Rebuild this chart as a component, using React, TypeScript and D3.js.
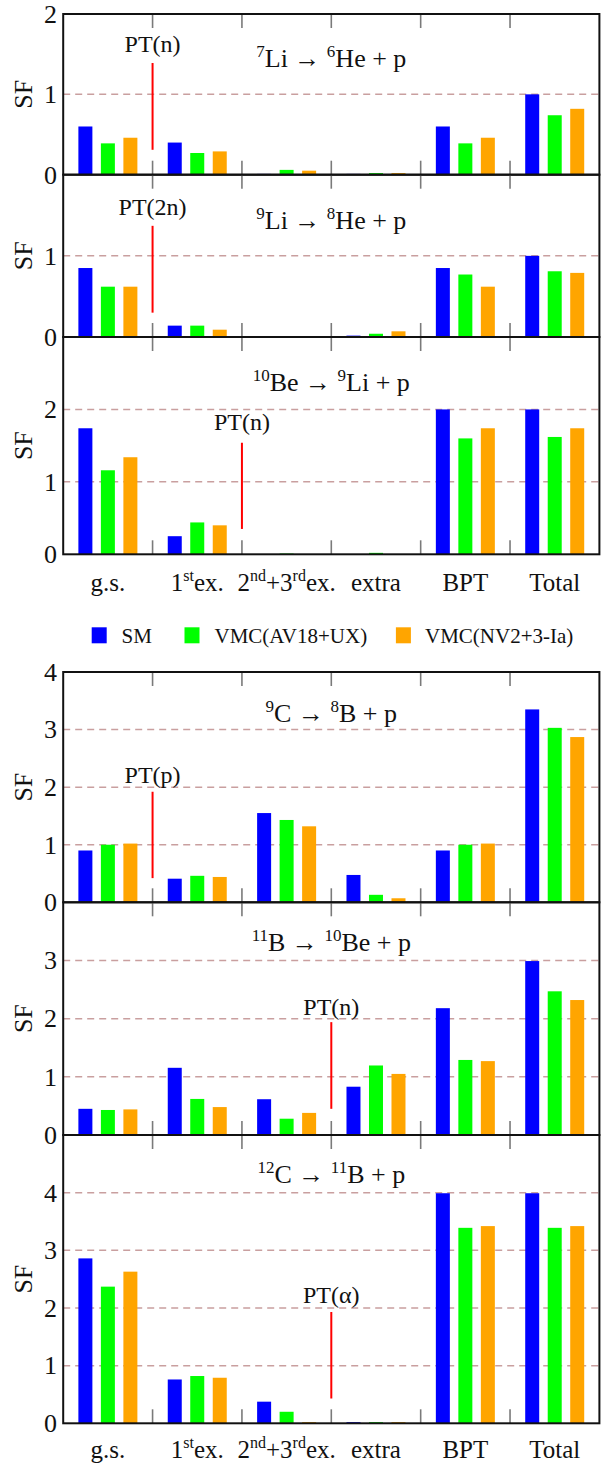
import React from "react";
import * as d3 from "d3";

// ---------- data ----------
const categories = ["g.s.", "1st ex.", "2nd+3rd ex.", "extra", "BPT", "Total"];
const seriesNames = ["SM", "VMC(AV18+UX)", "VMC(NV2+3-Ia)"];
const seriesColors = ["#0000ff", "#00ff00", "#ffa500"];

// label parts: [text, isSuperscript]
const categoryLabelParts: [string, boolean][][] = [
  [["g.s.", false]],
  [["1", false], ["st", true], ["ex.", false]],
  [["2", false], ["nd", true], ["+3", false], ["rd", true], ["ex.", false]],
  [["extra", false]],
  [["BPT", false]],
  [["Total", false]],
];

// 7Li -> 6He + p
const li7_SM = [0.6, 0.4, 0.01, 0.01, 0.6, 1.0];
const li7_AV18 = [0.39, 0.27, 0.06, 0.02, 0.39, 0.74];
const li7_NV2 = [0.46, 0.29, 0.05, 0.02, 0.46, 0.82];
// 9Li -> 8He + p
const li9_SM = [0.85, 0.14, 0.0, 0.017, 0.85, 1.0];
const li9_AV18 = [0.62, 0.14, 0.0, 0.04, 0.77, 0.81];
const li9_NV2 = [0.62, 0.09, 0.0, 0.07, 0.62, 0.79];
// 10Be -> 9Li + p
const be10_SM = [1.74, 0.25, 0.0, 0.0, 2.0, 2.0];
const be10_AV18 = [1.16, 0.44, 0.01, 0.02, 1.6, 1.62];
const be10_NV2 = [1.34, 0.4, 0.0, 0.0, 1.74, 1.74];
// 9C -> 8B + p
const c9_SM = [0.9, 0.41, 1.55, 0.475, 0.9, 3.35];
const c9_AV18 = [1.0, 0.46, 1.43, 0.13, 1.0, 3.03];
const c9_NV2 = [1.02, 0.44, 1.32, 0.07, 1.02, 2.87];
// 11B -> 10Be + p
const b11_SM = [0.45, 1.155, 0.615, 0.83, 2.18, 2.99];
const b11_AV18 = [0.43, 0.62, 0.28, 1.195, 1.29, 2.47];
const b11_NV2 = [0.44, 0.48, 0.38, 1.05, 1.27, 2.32];
// 12C -> 11B + p
const c12_SM = [2.86, 0.76, 0.375, 0.02, 3.99, 3.99];
const c12_AV18 = [2.37, 0.82, 0.2, 0.02, 3.39, 3.39];
const c12_NV2 = [2.63, 0.79, 0.02, 0.02, 3.42, 3.42];

const titleParts: [string, boolean][][] = [
  [["7", true], ["Li \u2192 ", false], ["6", true], ["He + p", false]],
  [["9", true], ["Li \u2192 ", false], ["8", true], ["He + p", false]],
  [["10", true], ["Be \u2192 ", false], ["9", true], ["Li + p", false]],
  [["9", true], ["C \u2192 ", false], ["8", true], ["B + p", false]],
  [["11", true], ["B \u2192 ", false], ["10", true], ["Be + p", false]],
  [["12", true], ["C \u2192 ", false], ["11", true], ["B + p", false]],
];
const titleValues = [1.34, 1.33, 2.25, 3.14, 3.16, 4.16];

const ptLabels = ["PT(n)", "PT(2n)", "PT(n)", "PT(p)", "PT(n)", "PT(\u03b1)"];
const ptBoundary = [1, 1, 2, 1, 3, 3];
const ptLabelValues = [1.53, 1.5, 1.72, 2.07, 2.07, 2.08];
const ptLineTop = [1.39, 1.37, 1.54, 1.92, 1.94, 1.93];
const ptLineBottom = [0.31, 0.3, 0.35, 0.42, 0.45, 0.43];

const yMaxes = [2, 2, 3, 4, 4, 5];
const showTopLabel = [true, false, false, true, false, false];

const panelSeries = [
  [li7_SM, li7_AV18, li7_NV2],
  [li9_SM, li9_AV18, li9_NV2],
  [be10_SM, be10_AV18, be10_NV2],
  [c9_SM, c9_AV18, c9_NV2],
  [b11_SM, b11_AV18, b11_NV2],
  [c12_SM, c12_AV18, c12_NV2],
];

// ---------- layout ----------
const W = 612;
const H = 1470;
const LEFT = 63.2;
const RIGHT = 599.4;
const panelTops = [14, 174.7, 337, 672, 902.3, 1135];
const panelBottoms = [174.7, 337, 554.3, 902.3, 1135, 1423.3];
const FONT = "Liberation Serif, Times New Roman, Times, DejaVu Serif, serif";
const BAR_W = 14;
const BAR_STEP = 22.5;
const TICK_LEN = 14;
const txt: React.CSSProperties = { fontFamily: FONT };

function Parts({ parts, size, supSize, supShift }: { parts: [string, boolean][]; size: number; supSize: number; supShift: number }) {
  let cur = 0;
  return (
    <>
      {parts.map(([t, sup], i) => {
        const target = sup ? -supShift : 0;
        const dy = target - cur;
        cur = target;
        return (
          <tspan key={i} dy={dy} fontSize={sup ? supSize : size} style={txt}>
            {t}
          </tspan>
        );
      })}
    </>
  );
}

const x = d3.scaleBand<string>().domain(categories).range([LEFT, RIGHT]).paddingInner(0).paddingOuter(0);
const sub = d3
  .scaleBand<string>()
  .domain(seriesNames)
  .range([-BAR_STEP - BAR_W / 2, BAR_STEP + BAR_W / 2])
  .paddingInner((BAR_STEP - BAR_W) / BAR_STEP)
  .paddingOuter(0);

function Panel({ idx }: { idx: number }) {
  const top = panelTops[idx];
  const bottom = panelBottoms[idx];
  const ymax = yMaxes[idx];
  const y = d3.scaleLinear().domain([0, ymax]).range([bottom, top]);
  const grid = d3.range(1, ymax);
  const labels = d3.range(0, showTopLabel[idx] ? ymax + 1 : ymax);
  const boundaries = categories.slice(1).map((c) => x(c) as number);
  const ptX = x(categories[ptBoundary[idx]]) as number;
  const mid = (top + bottom) / 2;
  const titleX = x(categories[3]) as number;
  return (
    <g>
      {grid.map((g) => (
        <line key={"g" + g} x1={LEFT} x2={RIGHT} y1={y(g)} y2={y(g)} stroke="#c99f9f" strokeWidth={1.5} strokeDasharray="7,5" />
      ))}
      {panelSeries[idx].map((vals, si) =>
        vals.map((v, ci) => {
          const cx = (x(categories[ci]) as number) + x.bandwidth() / 2 + (sub(seriesNames[si]) as number);
          const h = y(0) - y(v);
          if (h <= 0) return null;
          return <rect key={si + "-" + ci} x={cx} y={y(v)} width={sub.bandwidth()} height={h} fill={seriesColors[si]} />;
        })
      )}
      {boundaries.map((bx, i) => (
        <g key={"t" + i}>
          <line x1={bx} x2={bx} y1={top} y2={top + TICK_LEN} stroke="#7a7a7a" strokeWidth={1.6} />
          <line x1={bx} x2={bx} y1={bottom - TICK_LEN} y2={bottom} stroke="#7a7a7a" strokeWidth={1.6} />
        </g>
      ))}
      <rect x={LEFT} y={top} width={RIGHT - LEFT} height={bottom - top} fill="none" stroke="#111" strokeWidth={2} />
      {labels.map((l) => (
        <text key={"l" + l} x={57} y={y(l)} dy="0.34em" textAnchor="end" fontSize={26} style={txt} fill="#111">
          {l}
        </text>
      ))}
      <text transform={`translate(32,${mid}) rotate(-90)`} textAnchor="middle" fontSize={26} style={txt} fill="#111">
        SF
      </text>
      <text x={titleX} y={y(titleValues[idx])} textAnchor="middle" fontSize={26} style={txt} fill="#111">
        <Parts parts={titleParts[idx]} size={26} supSize={17} supShift={10} />
      </text>
      <text x={ptX} y={y(ptLabelValues[idx])} textAnchor="middle" fontSize={24} style={txt} fill="#111">
        {ptLabels[idx]}
      </text>
      <line x1={ptX} x2={ptX} y1={y(ptLineTop[idx])} y2={y(ptLineBottom[idx])} stroke="#ff0000" strokeWidth={2} />
    </g>
  );
}

function XLabels({ baseline }: { baseline: number }) {
  return (
    <g>
      {categories.map((c, i) => (
        <text key={c} x={(x(c) as number) + x.bandwidth() / 2} y={baseline} textAnchor="middle" fontSize={25} style={txt} fill="#111">
          <Parts parts={categoryLabelParts[i]} size={25} supSize={16} supShift={10} />
        </text>
      ))}
    </g>
  );
}

const legendSquareX = [91.7, 184.5, 395.9];
const legendTextX = [121.5, 214.5, 425];

export default function App() {
  return (
    <svg width={W} height={H} viewBox={`0 0 ${W} ${H}`} style={{ position: "absolute", left: 0, top: 0, background: "#fff" }}>
      <rect x={0} y={0} width={W} height={H} fill="#fff" />
      {panelTops.map((_, i) => (
        <Panel key={i} idx={i} />
      ))}
      <XLabels baseline={590.5} />
      <XLabels baseline={1458} />
      {seriesNames.map((s, i) => (
        <g key={s}>
          <rect x={legendSquareX[i]} y={627.3} width={15} height={16} fill={seriesColors[i]} />
          <text x={legendTextX[i]} y={642.7} fontSize={21} style={txt} fill="#111">
            {s}
          </text>
        </g>
      ))}
    </svg>
  );
}
